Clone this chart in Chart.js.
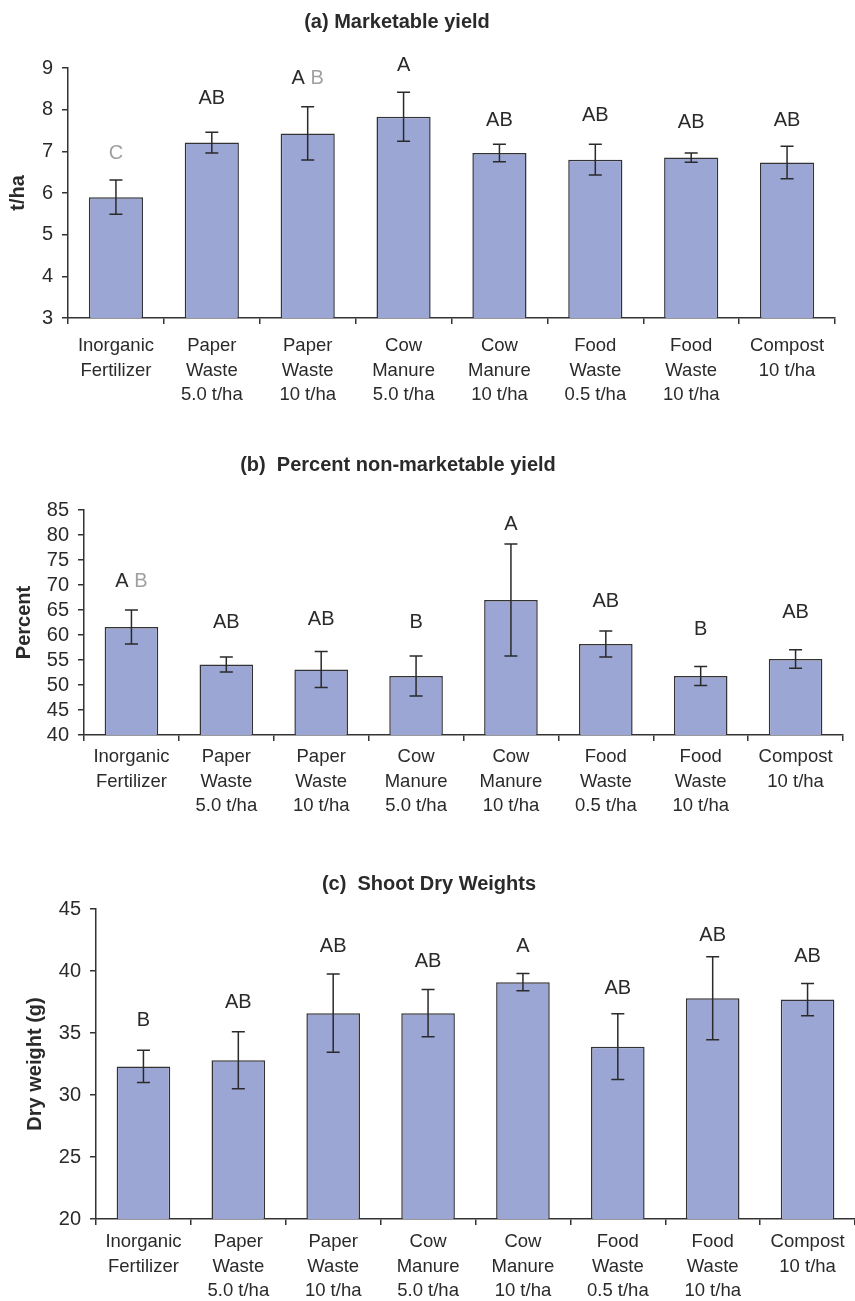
<!DOCTYPE html>
<html>
<head>
<meta charset="utf-8">
<script src="https://cdn.jsdelivr.net/npm/chart.js@4.4.0/dist/chart.umd.min.js"></script>
<style>
  body { margin: 0; background: #fff; }
  .panel { position: absolute; left: 0; }
</style>
</head>
<body>
<div class="panel" style="top:0"><canvas id="chartA" width="855" height="420"></canvas></div>
<div class="panel" style="top:430px"><canvas id="chartB" width="855" height="400"></canvas></div>
<div class="panel" style="top:830px"><canvas id="chartC" width="855" height="471"></canvas></div>
<script>
const categories = [
  ['Inorganic', 'Fertilizer'],
  ['Paper', 'Waste', '5.0 t/ha'],
  ['Paper', 'Waste', '10 t/ha'],
  ['Cow', 'Manure', '5.0 t/ha'],
  ['Cow', 'Manure', '10 t/ha'],
  ['Food', 'Waste', '0.5 t/ha'],
  ['Food', 'Waste', '10 t/ha'],
  ['Compost', '10 t/ha']
];

// (a) marketable yield, t/ha
const yieldMean = [5.90, 7.21, 7.43, 7.83, 6.96, 6.80, 6.85, 6.73];
const yieldErr = [0.41, 0.25, 0.64, 0.59, 0.21, 0.37, 0.11, 0.39];
const yieldLetters = ['C', 'AB', 'A B', 'A', 'AB', 'AB', 'AB', 'AB'];
const yieldLetterAt = [6.94, 8.26, 8.74, 9.07, 7.75, 7.85, 7.70, 7.75];

// (b) percent non-marketable yield
const nonMarketMean = [61.6, 54.1, 53.1, 51.8, 67.0, 58.2, 51.8, 55.2];
const nonMarketErr = [3.4, 1.5, 3.6, 4.0, 11.2, 2.6, 1.9, 1.85];
const nonMarketLetters = ['A B', 'AB', 'AB', 'B', 'A', 'AB', 'B', 'AB'];
const nonMarketLetterAt = [70.8, 62.5, 63.2, 62.5, 82.1, 66.8, 61.2, 64.5];

// (c) shoot dry weights, g
const dryMean = [32.3, 32.8, 36.6, 36.6, 39.1, 33.9, 37.8, 37.7];
const dryErr = [1.3, 2.3, 3.15, 1.9, 0.7, 2.65, 3.35, 1.3];
const dryLetters = ['B', 'AB', 'AB', 'AB', 'A', 'AB', 'AB', 'AB'];
const dryLetterAt = [36.0, 37.5, 42.0, 40.8, 42.0, 38.6, 42.9, 41.2];

const FONT = 'Liberation Sans, Arial, Helvetica, sans-serif';
const INK = '#2a2a2a';
const FADED = '#a0a0a0';
const BAR = 'rgb(155,166,212)';

// which characters of the letter groups are printed in light grey
const fadedChars = {
  chartA: { 0: [0], 2: [2] },
  chartB: { 0: [2] }
};

const annotate = {
  id: 'annotate',
  afterDatasetsDraw(chart, args, opts) {
    const ctx = chart.ctx;
    const y = chart.scales.y;
    const meta = chart.getDatasetMeta(0);
    ctx.save();
    // error bars
    ctx.strokeStyle = INK;
    ctx.lineWidth = 1.5;
    meta.data.forEach((bar, i) => {
      const top = y.getPixelForValue(opts.mean[i] + opts.err[i]);
      const bot = y.getPixelForValue(opts.mean[i] - opts.err[i]);
      ctx.beginPath();
      ctx.moveTo(bar.x, top); ctx.lineTo(bar.x, bot);
      ctx.moveTo(bar.x - 6.5, top); ctx.lineTo(bar.x + 6.5, top);
      ctx.moveTo(bar.x - 6.5, bot); ctx.lineTo(bar.x + 6.5, bot);
      ctx.stroke();
    });
    // significance letters
    ctx.font = '20px ' + FONT;
    ctx.textBaseline = 'middle';
    ctx.textAlign = 'left';
    const faded = fadedChars[chart.canvas.id] || {};
    meta.data.forEach((bar, i) => {
      const txt = opts.letters[i];
      let x = bar.x - ctx.measureText(txt).width / 2;
      const ly = y.getPixelForValue(opts.letterAt[i]);
      for (let k = 0; k < txt.length; k++) {
        ctx.fillStyle = (faded[i] || []).includes(k) ? FADED : INK;
        ctx.fillText(txt[k], x, ly);
        x += ctx.measureText(txt[k]).width;
      }
    });
    // panel title
    ctx.font = 'bold 20px ' + FONT;
    ctx.fillStyle = INK;
    ctx.textAlign = 'center';
    ctx.fillText(opts.title, opts.titleX, opts.titleY);
    ctx.restore();
  }
};

function makeChart(id, p) {
  new Chart(document.getElementById(id), {
    type: 'bar',
    data: {
      labels: categories,
      datasets: [{
        data: p.mean,
        backgroundColor: BAR,
        borderColor: '#333',
        borderWidth: 1.5,
        barPercentage: 0.565,
        categoryPercentage: 1
      }]
    },
    options: {
      responsive: false,
      devicePixelRatio: 1,
      animation: false,
      layout: { padding: { top: p.top, right: p.right, left: 0, bottom: 0 } },
      plugins: {
        legend: { display: false },
        tooltip: { enabled: false },
        annotate: p
      },
      scales: {
        x: {
          offset: true,
          grid: { offset: true, drawOnChartArea: false, tickLength: 6, color: '#333', lineWidth: 1.5 },
          border: { color: '#333', width: 1.5 },
          ticks: {
            font: { family: FONT, size: 18.5, lineHeight: 1.32 },
            color: INK, padding: p.labelPad, maxRotation: 0, autoSkip: false
          },
          afterFit: s => { s.height = p.xHeight; }
        },
        y: {
          min: p.min, max: p.max,
          grid: { drawOnChartArea: false, tickLength: 6, color: '#333', lineWidth: 1.5 },
          border: { color: '#333', width: 1.5 },
          ticks: {
            stepSize: p.step, autoSkip: false,
            font: { family: FONT, size: 20 }, color: INK, padding: 9
          },
          title: {
            display: true, text: p.axisTitle, color: INK,
            font: { family: FONT, size: 20, weight: 'bold' },
            padding: { top: p.axisTitlePad, bottom: 0 }
          },
          afterFit: s => { s.width = p.yWidth; }
        }
      }
    },
    plugins: [annotate]
  });
}

makeChart('chartA', {
  mean: yieldMean, err: yieldErr, letters: yieldLetters, letterAt: yieldLetterAt,
  title: '(a) Marketable yield', titleX: 397, titleY: 22,
  axisTitle: 't/ha', axisTitlePad: 6,
  min: 3, max: 9, step: 1,
  top: 68, right: 20, yWidth: 68, xHeight: 102, labelPad: 10
});

makeChart('chartB', {
  mean: nonMarketMean, err: nonMarketErr, letters: nonMarketLetters, letterAt: nonMarketLetterAt,
  title: '(b)  Percent non-marketable yield', titleX: 398, titleY: 35,
  axisTitle: 'Percent', axisTitlePad: 12,
  min: 40, max: 85, step: 5,
  top: 80, right: 12, yWidth: 84, xHeight: 95, labelPad: 4
});

makeChart('chartC', {
  mean: dryMean, err: dryErr, letters: dryLetters, letterAt: dryLetterAt,
  title: '(c)  Shoot Dry Weights', titleX: 429, titleY: 54,
  axisTitle: 'Dry weight (g)', axisTitlePad: 23,
  min: 20, max: 45, step: 5,
  top: 79, right: 0, yWidth: 96, xHeight: 82, labelPad: 5
});
</script>
</body>
</html>
